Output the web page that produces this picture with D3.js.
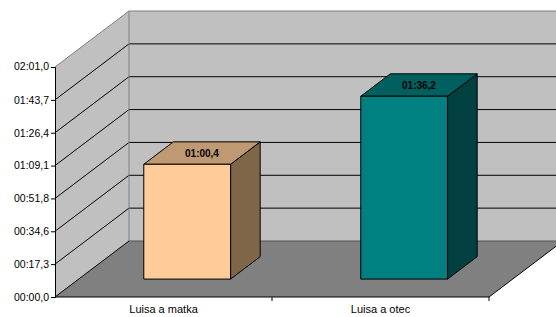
<!DOCTYPE html>
<html>
<head>
<meta charset="utf-8">
<script src="https://cdn.jsdelivr.net/npm/d3@7"></script>
<style>
  body { margin: 0; background: #fff; }
  svg text { font-family: "Liberation Sans", Arial, sans-serif; }
</style>
</head>
<body>
<div id="chart"></div>
<script>
// data
var categories = ["Luisa a matka", "Luisa a otec"];
var values = [60.4, 96.2];            // seconds
var valueLabels = ["01:00,4", "01:36,2"];
var tickLabels = ["00:00,0", "00:17,3", "00:34,6", "00:51,8", "01:09,1", "01:26,4", "01:43,7", "02:01,0"];
var tickValues = [0, 17.29, 34.57, 51.86, 69.14, 86.43, 103.71, 121.0];
var barColors = [
  { front: "#FFCC99", top: "#BF9972", side: "#806648" },
  { front: "#008080", top: "#006060", side: "#004040" }
];

var W = 556, H = 317;
var depth = { dx: 74, dy: 56 };

var svg = d3.select("#chart").append("svg")
  .attr("width", W)
  .attr("height", H);

// scales (front plane)
var x = d3.scaleBand().domain(categories).range([55, 489]);
var y = d3.scaleLinear().domain([0, 121]).range([297, 67]);
var z = d3.scaleLinear().domain([0, 1]).range([0, 1]);

// project a point (front-plane x, value, depth 0..1)
function P(px, v, d) {
  return [px + z(d) * depth.dx, y(v) - z(d) * depth.dy];
}
function poly(pts) { return pts.map(function(p) { return p.join(","); }).join(" "); }

var x0 = x.range()[0], x1 = x.range()[1];
var vmax = y.domain()[1];

// side wall
svg.append("polygon")
  .attr("points", poly([P(x0, 0, 0), P(x0, vmax, 0), P(x0, vmax, 1), P(x0, 0, 1)]))
  .attr("fill", "#C0C0C0");

// back wall
svg.append("polygon")
  .attr("points", poly([P(x0, 0, 1), P(x0, vmax, 1), P(x1, vmax, 1), P(x1, 0, 1)]))
  .attr("fill", "#C0C0C0");

// floor
svg.append("polygon")
  .attr("points", poly([P(x0, 0, 0), P(x1, 0, 0), P(x1, 0, 1), P(x0, 0, 1)]))
  .attr("fill", "#808080");

// gridlines
tickValues.forEach(function(v, i) {
  if (i === 0) return;
  var pts = [P(x0, v, 0), P(x0, v, 1), P(x1, v, 1)];
  svg.append("polyline")
    .attr("points", poly(pts))
    .attr("fill", "none")
    .attr("stroke", i === tickValues.length - 1 ? "#808080" : "#000")
    .attr("stroke-width", 1);
});

// back wall left edge + floor back edge
svg.append("line")
  .attr("x1", P(x0, 0, 1)[0]).attr("y1", P(x0, 0, 1)[1])
  .attr("x2", P(x0, vmax, 1)[0]).attr("y2", P(x0, vmax, 1)[1])
  .attr("stroke", "#808080");
svg.append("line")
  .attr("x1", P(x0, 0, 1)[0]).attr("y1", P(x0, 0, 1)[1])
  .attr("x2", P(x1, 0, 1)[0]).attr("y2", P(x1, 0, 1)[1])
  .attr("stroke", "#555");

// floor outline (front and right edges)
svg.append("polyline")
  .attr("points", poly([P(x0, 0, 0), P(x1, 0, 0), P(x1, 0, 1)]))
  .attr("fill", "none")
  .attr("stroke", "#000");
svg.append("line")
  .attr("x1", P(x0, 0, 0)[0]).attr("y1", P(x0, 0, 0)[1])
  .attr("x2", P(x0, 0, 1)[0]).attr("y2", P(x0, 0, 1)[1])
  .attr("stroke", "#000");

// bars
var zf = 0.32, zb = 0.72;
categories.forEach(function(c, i) {
  var bw = x.bandwidth() * 0.4;
  var cx = x(c) + x.bandwidth() / 2;
  var l = cx - bw / 2, r = cx + bw / 2, v = values[i];
  var g = svg.append("g")
    .attr("stroke", "#000")
    .attr("stroke-width", 1)
    .attr("stroke-linejoin", "round");
  // side
  g.append("polygon")
    .attr("points", poly([P(r, 0, zf), P(r, v, zf), P(r, v, zb), P(r, 0, zb)]))
    .attr("fill", barColors[i].side);
  // top
  g.append("polygon")
    .attr("points", poly([P(l, v, zf), P(r, v, zf), P(r, v, zb), P(l, v, zb)]))
    .attr("fill", barColors[i].top);
  // front
  g.append("polygon")
    .attr("points", poly([P(l, 0, zf), P(r, 0, zf), P(r, v, zf), P(l, v, zf)]))
    .attr("fill", barColors[i].front);
  // value label
  var tc = P(cx, v, (zf + zb) / 2);
  svg.append("text")
    .attr("x", tc[0])
    .attr("y", tc[1] + 3.5)
    .attr("text-anchor", "middle")
    .attr("font-size", "10px")
    .attr("font-weight", "bold")
    .attr("fill", "#000")
    .text(valueLabels[i]);
});

// Y axis
var yAxis = d3.axisLeft(y)
  .tickValues(tickValues.slice(0, -1))
  .tickFormat(function(d, i) { return tickLabels[i]; })
  .tickSizeOuter(0)
  .tickSize(4)
  .tickPadding(2);
var ya = svg.append("g")
  .attr("transform", "translate(" + x0 + ",0)")
  .call(yAxis);
ya.select(".domain").attr("stroke", "#000");
ya.selectAll("text")
  .attr("font-size", "10.5px")
  .attr("fill", "#000");
// top label without tick
ya.append("text")
  .attr("x", -6)
  .attr("y", y(vmax))
  .attr("dy", "0.32em")
  .attr("text-anchor", "end")
  .attr("font-size", "10.5px")
  .attr("fill", "#000")
  .text(tickLabels[tickLabels.length - 1]);

// X axis
var xa = svg.append("g")
  .attr("transform", "translate(0," + y(0) + ")")
  .call(d3.axisBottom(x).tickSize(0).tickPadding(8));
xa.select(".domain").remove();
xa.selectAll("text")
  .attr("font-size", "11px")
  .attr("font-family", "Liberation Sans, Arial, sans-serif")
  .attr("fill", "#000");
// category separator ticks
[x0, x(categories[1]), x1].forEach(function(px, i) {
  if (i === 0) return;
  xa.append("line")
    .attr("x1", px).attr("x2", px)
    .attr("y1", 0).attr("y2", 4)
    .attr("stroke", "#000");
});
</script>
</body>
</html>
